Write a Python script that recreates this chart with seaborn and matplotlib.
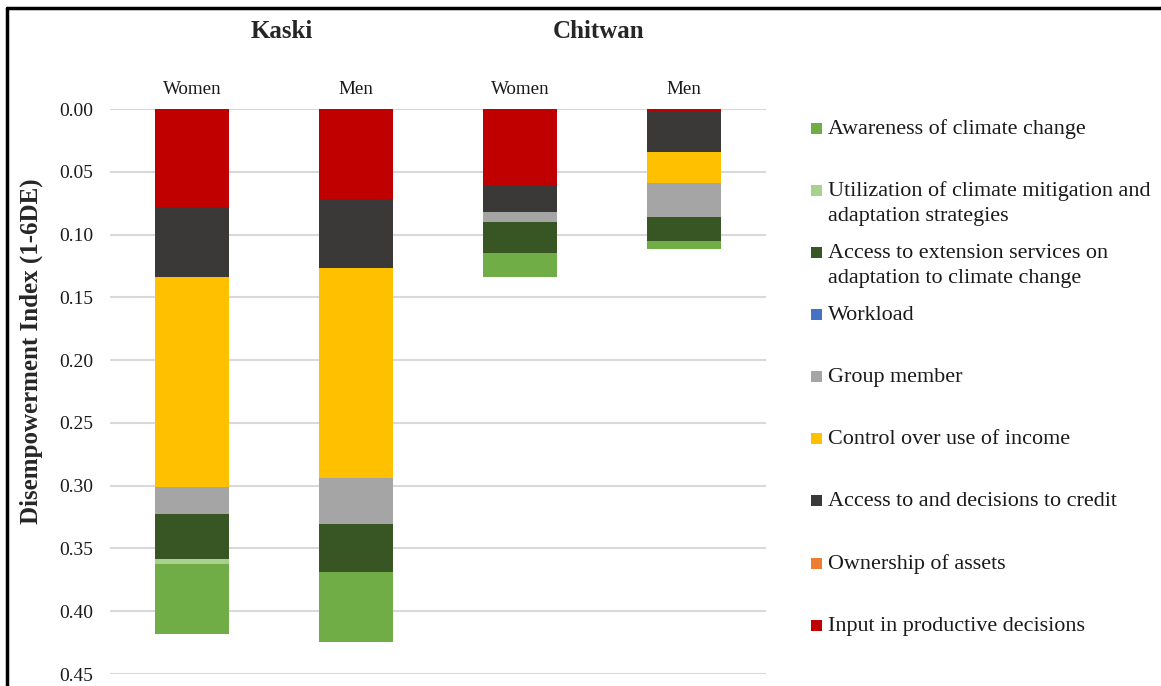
import matplotlib
matplotlib.use("Agg")
import matplotlib.pyplot as plt
from matplotlib.patches import Rectangle
from matplotlib.lines import Line2D
import seaborn as sns
import pandas as pd

# Groups (district / respondent sex)
districts = ["Kaski", "Kaski", "Chitwan", "Chitwan"]
sexes = ["Women", "Men", "Women", "Men"]
groups = ["Kaski Women", "Kaski Men", "Chitwan Women", "Chitwan Men"]

# Contribution of each indicator to disempowerment (stacked from 0 downward)
input_productive = [0.0780, 0.0717, 0.0608, 0.0024]
ownership_assets = [0.0, 0.0, 0.0, 0.0]
access_credit = [0.0555, 0.0551, 0.0212, 0.0318]
control_income = [0.1674, 0.1667, 0.0, 0.0247]
group_member = [0.0213, 0.0372, 0.0082, 0.0271]
workload = [0.0, 0.0, 0.0, 0.0]
access_extension = [0.0365, 0.0382, 0.0247, 0.0194]
utilization_strategies = [0.0033, 0.0, 0.0, 0.0]
awareness_cc = [0.0562, 0.0560, 0.0189, 0.0061]

# Stacking order (first = nearest 0)
series = [
    ("Input in productive decisions", input_productive, "#C00000"),
    ("Ownership of assets", ownership_assets, "#ED7D31"),
    ("Access to and decisions to credit", access_credit, "#3B3838"),
    ("Control over use of income", control_income, "#FFC000"),
    ("Group member", group_member, "#A5A5A5"),
    ("Workload", workload, "#4472C4"),
    ("Access to extension services on\nadaptation to climate change", access_extension, "#375623"),
    ("Utilization of climate mitigation and\nadaptation strategies", utilization_strategies, "#A9D18E"),
    ("Awareness of climate change", awareness_cc, "#70AD47"),
]

sns.set_theme(style="white")
plt.rcParams["font.family"] = ["Liberation Serif", "DejaVu Serif"]

W, H = 1161, 686
fig = plt.figure(figsize=(W / 100, H / 100), dpi=100)
ax = fig.add_axes([110 / W, 1 - 674 / H, 656 / W, 565 / H])

bottom = [0.0] * len(groups)
for name, vals, color in series:
    df = pd.DataFrame({"group": groups, "value": vals})
    sns.barplot(data=df, x="group", y="value", order=groups, color=color,
                width=0.45, bottom=bottom, ax=ax, saturation=1,
                edgecolor="none", linewidth=0)
    bottom = [b + v for b, v in zip(bottom, vals)]

ax.set_ylim(0.45, 0.0)
ax.set_xlim(-0.5, 3.5)
ax.set_yticks([i * 0.05 for i in range(10)])
ax.set_yticklabels([f"{i * 0.05:.2f}" for i in range(10)], fontsize=14, color="#1a1a1a")
ax.grid(axis="y", color="#D9D9D9", linewidth=1.5)
ax.grid(axis="x", visible=False)
ax.set_axisbelow(True)
for s in ax.spines.values():
    s.set_visible(False)
ax.tick_params(axis="y", length=0, pad=12)
ax.xaxis.tick_top()
ax.set_xticks(range(len(groups)))
ax.set_xticklabels(sexes, fontsize=13.7, color="#1a1a1a")
ax.tick_params(axis="x", length=0, pad=8)
ax.set_xlabel("")
ax.set_ylabel("")

# District headers above each pair of bars
for d, xc in [("Kaski", 0.549), ("Chitwan", 2.476)]:
    ax.text(xc, 1.0 + 77 / 565, d, transform=ax.get_xaxis_transform(),
            ha="center", va="center", fontsize=18, fontweight="bold")

fig.text(31 / W, 1 - 351 / H, "Disempowerment Index (1-6DE)", rotation=90,
         ha="center", va="center", fontsize=18, fontweight="bold")

# Legend, listed from the outermost segment inward
leg_y = [128 + i * 62.15 for i in range(len(series))]
for (name, vals, color), y in zip(reversed(series), leg_y):
    fig.add_artist(Rectangle((811 / W, 1 - (y + 5.5) / H), 11 / W, 11 / H,
                             transform=fig.transFigure, facecolor=color,
                             edgecolor="none"))
    for j, line in enumerate(name.split("\n")):
        fig.text(828 / W, 1 - (y + 1 + j * 25) / H, line, ha="left", va="center",
                 fontsize=15.9, color="#1a1a1a")

# Frame lines along top and left edge
fig.add_artist(Line2D([7 / W, 1.0], [1 - 8 / H, 1 - 8 / H], color="black",
                      linewidth=2.5, transform=fig.transFigure))
fig.add_artist(Line2D([7 / W, 7 / W], [0.0, 1 - 8 / H], color="black",
                      linewidth=2.5, transform=fig.transFigure))

fig.savefig("out.png", dpi=100, facecolor="white")
